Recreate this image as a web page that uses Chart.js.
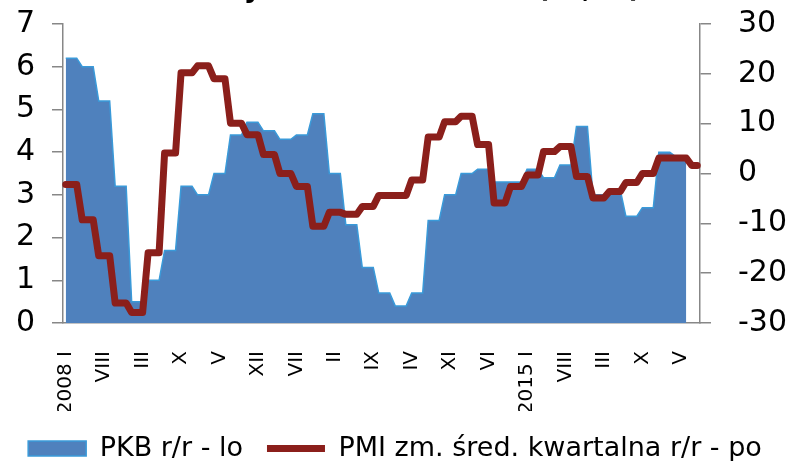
<!DOCTYPE html>
<html>
<head>
<meta charset="utf-8">
<script src="https://cdn.jsdelivr.net/npm/chart.js@4/dist/chart.umd.min.js"></script>
<style>
  html, body { margin: 0; padding: 0; background: #fff; }
  #wrap { width: 790px; height: 461px; position: relative; }
</style>
</head>
<body>
<div id="wrap"><canvas id="chart"></canvas></div>
<script>
// ============================================================
// DATA
// ============================================================

const chartTitle = 'Dynamika PKB i PMI (r/r, %)';

const years = [2008, 2009, 2010, 2011, 2012, 2013, 2014, 2015, 2016, 2017];
const romanMonths = ['I', 'II', 'III', 'IV', 'V', 'VI', 'VII', 'VIII', 'IX', 'X', 'XI', 'XII'];
const monthCount = 116; // 2008 I .. 2017 VIII
const labelStep = 7;

// PKB r/r (%), quarterly value held for each month of the quarter
const pkbValues = [
  6.2, 6.2, 6.2, 6.0, 6.0, 6.0, 5.2, 5.2, 5.2, 3.2, 3.2, 3.2,   // 2008
  0.5, 0.5, 0.5, 1.0, 1.0, 1.0, 1.7, 1.7, 1.7, 3.2, 3.2, 3.2,   // 2009
  3.0, 3.0, 3.0, 3.5, 3.5, 3.5, 4.4, 4.4, 4.4, 4.7, 4.7, 4.7,   // 2010
  4.5, 4.5, 4.5, 4.3, 4.3, 4.3, 4.4, 4.4, 4.4, 4.9, 4.9, 4.9,   // 2011
  3.5, 3.5, 3.5, 2.3, 2.3, 2.3, 1.3, 1.3, 1.3, 0.7, 0.7, 0.7,   // 2012
  0.4, 0.4, 0.4, 0.7, 0.7, 0.7, 2.4, 2.4, 2.4, 3.0, 3.0, 3.0,   // 2013
  3.5, 3.5, 3.5, 3.6, 3.6, 3.6, 3.3, 3.3, 3.3, 3.3, 3.3, 3.3,   // 2014
  3.6, 3.6, 3.6, 3.4, 3.4, 3.4, 3.7, 3.7, 3.7, 4.6, 4.6, 4.6,   // 2015
  3.0, 3.0, 3.0, 3.1, 3.1, 3.1, 2.5, 2.5, 2.5, 2.7, 2.7, 2.7,   // 2016
  4.0, 4.0, 4.0, 3.9, 3.9, 3.9, null, null                      // 2017
];

// PMI, change of quarterly average r/r
const pmiValues = [
  -2.2, -2.2, -2.2, -9.3, -9.3, -9.3, -16.5, -16.5, -16.5, -26.0, -26.0, -26.0,  // 2008
  -27.9, -27.9, -27.9, -15.9, -15.9, -15.9, 4.1, 4.1, 4.1, 20.2, 20.2, 20.2,     // 2009
  21.6, 21.6, 21.6, 19.0, 19.0, 19.0, 10.1, 10.1, 10.1, 7.8, 7.8, 7.8,           // 2010
  3.8, 3.8, 3.8, 0.0, 0.0, 0.0, -2.6, -2.6, -2.6, -10.6, -10.6, -10.6,           // 2011
  -7.8, -7.8, -7.8, -8.2, -8.2, -8.2, -6.6, -6.6, -6.6, -4.4, -4.4, -4.4,        // 2012
  -4.4, -4.4, -4.4, -1.3, -1.3, -1.3, 7.3, 7.3, 7.3, 10.4, 10.4, 10.4,           // 2013
  11.5, 11.5, 11.5, 5.8, 5.8, 5.8, -5.9, -5.9, -5.9, -2.6, -2.6, -2.6,           // 2014
  -0.3, -0.3, -0.3, 4.4, 4.4, 4.4, 5.4, 5.4, 5.4, -0.6, -0.6, -0.6,              // 2015
  -4.9, -4.9, -4.9, -3.6, -3.6, -3.6, -1.8, -1.8, -1.8, 0.0, 0.0, 0.0,           // 2016
  3.1, 3.1, 3.1, 3.1, 3.1, 3.1, 1.6, 1.6                                         // 2017
];

const monthLabels = [];
years.forEach(y => romanMonths.forEach((m, i) => monthLabels.push(i === 0 ? y + ' ' + m : m)));
monthLabels.length = monthCount;

// ============================================================
// STYLE
// ============================================================

const FONT = 'DejaVu Sans';
const axisGray = '#878787';

// title sits above the canvas, only its lowest part is visible
const cutTitle = {
  id: 'cutTitle',
  afterDraw(chart) {
    const ctx = chart.ctx;
    ctx.save();
    ctx.font = `bold 27px "${FONT}"`;
    ctx.fillStyle = '#000';
    ctx.textAlign = 'right';
    ctx.textBaseline = 'alphabetic';
    ctx.fillText(chartTitle, 641, -3);
    ctx.restore();
  }
};

// fixed axis box sizes so the plot area lands where the original one is
function fixBox(w, h) {
  return s => {
    if (w !== null) s.width = w;
    if (h !== null) s.height = h;
    s.paddingTop = 0;
    s.paddingBottom = 0;
    s.paddingLeft = 0;
    s.paddingRight = 0;
  };
}

// ============================================================
// CHART
// ============================================================

new Chart(document.getElementById('chart'), {
  type: 'line',
  data: {
    labels: monthLabels,
    datasets: [
      {
        label: 'PKB r/r - lo',
        data: pkbValues,
        yAxisID: 'y',
        order: 1,
        fill: 'origin',
        backgroundColor: '#4f81bd',
        borderColor: '#3a9ad9',
        borderWidth: 1.5,
        pointRadius: 0,
        pointStyle: 'rect',
        tension: 0
      },
      {
        label: 'PMI zm. śred. kwartalna r/r - po',
        data: pmiValues,
        yAxisID: 'y1',
        order: 0,
        fill: false,
        borderColor: '#8b1f1b',
        backgroundColor: '#8b1f1b',
        borderWidth: 7,
        borderJoinStyle: 'round',
        borderCapStyle: 'round',
        pointRadius: 0,
        pointStyle: 'line',
        tension: 0
      }
    ]
  },
  options: {
    responsive: true,
    maintainAspectRatio: false,
    animation: false,
    layout: { padding: { top: 24, left: 0, right: 0, bottom: -11 } },
    plugins: {
      tooltip: { enabled: false },
      legend: {
        position: 'bottom',
        labels: {
          usePointStyle: true,
          pointStyleWidth: 58,
          boxHeight: 15,
          padding: 24,
          color: '#000',
          font: { family: FONT, size: 27 },
          sort: (a, b) => a.datasetIndex - b.datasetIndex
        }
      }
    },
    scales: {
      x: {
        type: 'category',
        offset: true,
        grid: { display: false },
        border: { display: true, color: axisGray, width: 1.5 },
        ticks: {
          autoSkip: false,
          minRotation: 90,
          maxRotation: 90,
          padding: 20,
          color: '#000',
          font: { family: FONT, size: 20 },
          callback: (val, idx) => idx % labelStep === 0 ? monthLabels[idx] : ''
        },
        afterFit: fixBox(null, 88)
      },
      y: {
        position: 'left',
        min: 0,
        max: 7,
        grid: { drawOnChartArea: false, drawTicks: true, tickLength: 11, color: axisGray, lineWidth: 1.5 },
        border: { display: true, color: axisGray, width: 1.5 },
        ticks: { stepSize: 1, padding: 17, color: '#000', font: { family: FONT, size: 30 } },
        afterFit: fixBox(63, null)
      },
      y1: {
        position: 'right',
        min: -30,
        max: 30,
        grid: { drawOnChartArea: false, drawTicks: true, tickLength: 11, color: axisGray, lineWidth: 1.5 },
        border: { display: true, color: axisGray, width: 1.5 },
        ticks: { stepSize: 10, padding: 27, color: '#000', font: { family: FONT, size: 30 } },
        afterFit: fixBox(90, null)
      }
    }
  },
  plugins: [cutTitle]
});
</script>
</body>
</html>
